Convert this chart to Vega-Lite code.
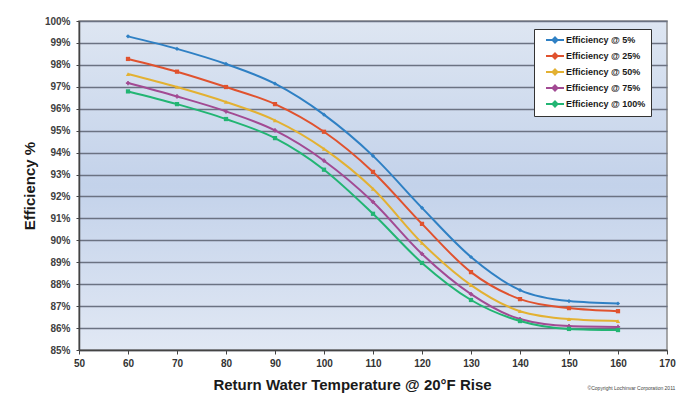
{
  "$schema": "https://vega.github.io/schema/vega-lite/v6.json",
  "autosize": {"type": "none"},
  "width": 588,
  "height": 329,
  "padding": {"left": 79, "top": 21, "right": 16, "bottom": 47},
  "background": "#ffffff",
  "title": {
    "text": "©Copyright Lochinvar Corporation 2011",
    "orient": "bottom",
    "anchor": "end",
    "fontSize": 5,
    "fontWeight": "normal",
    "color": "#444444",
    "font": "Liberation Sans",
    "offset": -6
  },
  "config": {
    "font": "Liberation Sans",
    "view": {
      "stroke": "#8c8c8c",
      "strokeWidth": 1.5,
      "fill": {
        "gradient": "linear",
        "x1": 0, "y1": 0, "x2": 0, "y2": 1,
        "stops": [
          {"offset": 0, "color": "#dee6f2"},
          {"offset": 0.5, "color": "#c3d2ea"},
          {"offset": 1, "color": "#e1e8f4"}
        ]
      }
    }
  },
  "resolve": {"legend": {"color": "independent", "shape": "independent"}},
  "data": {
    "values": [
      {"series": "Efficiency @ 5%", "temp": 60, "eff": 99.30},
      {"series": "Efficiency @ 5%", "temp": 70, "eff": 98.73},
      {"series": "Efficiency @ 5%", "temp": 80, "eff": 98.04},
      {"series": "Efficiency @ 5%", "temp": 90, "eff": 97.14},
      {"series": "Efficiency @ 5%", "temp": 100, "eff": 95.73},
      {"series": "Efficiency @ 5%", "temp": 110, "eff": 93.85},
      {"series": "Efficiency @ 5%", "temp": 120, "eff": 91.48},
      {"series": "Efficiency @ 5%", "temp": 130, "eff": 89.24},
      {"series": "Efficiency @ 5%", "temp": 140, "eff": 87.73},
      {"series": "Efficiency @ 5%", "temp": 150, "eff": 87.23},
      {"series": "Efficiency @ 5%", "temp": 160, "eff": 87.12},
      {"series": "Efficiency @ 25%", "temp": 60, "eff": 98.27},
      {"series": "Efficiency @ 25%", "temp": 70, "eff": 97.69},
      {"series": "Efficiency @ 25%", "temp": 80, "eff": 96.99},
      {"series": "Efficiency @ 25%", "temp": 90, "eff": 96.21},
      {"series": "Efficiency @ 25%", "temp": 100, "eff": 94.95},
      {"series": "Efficiency @ 25%", "temp": 110, "eff": 93.12},
      {"series": "Efficiency @ 25%", "temp": 120, "eff": 90.75},
      {"series": "Efficiency @ 25%", "temp": 130, "eff": 88.55},
      {"series": "Efficiency @ 25%", "temp": 140, "eff": 87.32},
      {"series": "Efficiency @ 25%", "temp": 150, "eff": 86.91},
      {"series": "Efficiency @ 25%", "temp": 160, "eff": 86.77},
      {"series": "Efficiency @ 50%", "temp": 60, "eff": 97.58},
      {"series": "Efficiency @ 50%", "temp": 70, "eff": 96.99},
      {"series": "Efficiency @ 50%", "temp": 80, "eff": 96.31},
      {"series": "Efficiency @ 50%", "temp": 90, "eff": 95.47},
      {"series": "Efficiency @ 50%", "temp": 100, "eff": 94.17},
      {"series": "Efficiency @ 50%", "temp": 110, "eff": 92.35},
      {"series": "Efficiency @ 50%", "temp": 120, "eff": 89.88},
      {"series": "Efficiency @ 50%", "temp": 130, "eff": 87.96},
      {"series": "Efficiency @ 50%", "temp": 140, "eff": 86.77},
      {"series": "Efficiency @ 50%", "temp": 150, "eff": 86.41},
      {"series": "Efficiency @ 50%", "temp": 160, "eff": 86.32},
      {"series": "Efficiency @ 75%", "temp": 60, "eff": 97.17},
      {"series": "Efficiency @ 75%", "temp": 70, "eff": 96.56},
      {"series": "Efficiency @ 75%", "temp": 80, "eff": 95.88},
      {"series": "Efficiency @ 75%", "temp": 90, "eff": 95.01},
      {"series": "Efficiency @ 75%", "temp": 100, "eff": 93.63},
      {"series": "Efficiency @ 75%", "temp": 110, "eff": 91.75},
      {"series": "Efficiency @ 75%", "temp": 120, "eff": 89.38},
      {"series": "Efficiency @ 75%", "temp": 130, "eff": 87.55},
      {"series": "Efficiency @ 75%", "temp": 140, "eff": 86.41},
      {"series": "Efficiency @ 75%", "temp": 150, "eff": 86.09},
      {"series": "Efficiency @ 75%", "temp": 160, "eff": 86.05},
      {"series": "Efficiency @ 100%", "temp": 60, "eff": 96.79},
      {"series": "Efficiency @ 100%", "temp": 70, "eff": 96.21},
      {"series": "Efficiency @ 100%", "temp": 80, "eff": 95.53},
      {"series": "Efficiency @ 100%", "temp": 90, "eff": 94.66},
      {"series": "Efficiency @ 100%", "temp": 100, "eff": 93.22},
      {"series": "Efficiency @ 100%", "temp": 110, "eff": 91.21},
      {"series": "Efficiency @ 100%", "temp": 120, "eff": 88.97},
      {"series": "Efficiency @ 100%", "temp": 130, "eff": 87.28},
      {"series": "Efficiency @ 100%", "temp": 140, "eff": 86.32},
      {"series": "Efficiency @ 100%", "temp": 150, "eff": 85.96},
      {"series": "Efficiency @ 100%", "temp": 160, "eff": 85.91}
    ]
  },
  "encoding": {
    "x": {
      "field": "temp",
      "type": "quantitative",
      "scale": {"domain": [50, 170], "nice": false, "zero": false},
      "axis": {
        "title": "Return Water Temperature @ 20°F Rise",
        "titleFontSize": 15,
        "titleFontWeight": "bold",
        "titleColor": "#1a1a1a",
        "titlePadding": 9,
        "titleX": 273,
        "values": [50, 60, 70, 80, 90, 100, 110, 120, 130, 140, 150, 160, 170],
        "labelFontSize": 10,
        "labelFontWeight": "bold",
        "labelColor": "#333333",
        "labelPadding": 4,
        "labelFlush": false,
        "tickSize": 4,
        "tickColor": "#444444",
        "domainColor": "#444444",
        "domainWidth": 1.5,
        "grid": false
      }
    },
    "y": {
      "field": "eff",
      "type": "quantitative",
      "scale": {"domain": [85, 100], "nice": false, "zero": false},
      "axis": {
        "title": "Efficiency %",
        "titleFontSize": 15,
        "titleFontWeight": "bold",
        "titleColor": "#1a1a1a",
        "titlePadding": 7,
        "values": [85, 86, 87, 88, 89, 90, 91, 92, 93, 94, 95, 96, 97, 98, 99, 100],
        "labelExpr": "datum.value + '%'",
        "labelFontSize": 10,
        "labelFontWeight": "bold",
        "labelColor": "#404040",
        "labelPadding": 6,
        "labelFlush": false,
        "tickSize": 3,
        "tickColor": "#444444",
        "domainColor": "#444444",
        "domainWidth": 1.5,
        "grid": true,
        "gridColor": "#6b7282",
        "gridWidth": 1.4
      }
    }
  },
  "layer": [
    {
      "mark": {"type": "line", "interpolate": "monotone", "strokeWidth": 2},
      "encoding": {
        "color": {
          "field": "series",
          "type": "nominal",
          "scale": {
            "domain": ["Efficiency @ 5%", "Efficiency @ 25%", "Efficiency @ 50%", "Efficiency @ 75%", "Efficiency @ 100%"],
            "range": ["#2f80c4", "#e0522e", "#e3b132", "#a24a93", "#22b573"]
          },
          "legend": {
            "title": null,
            "orient": "none",
            "legendX": 455,
            "legendY": 8,
            "fillColor": "#ffffff",
            "strokeColor": "#333333",
            "padding": 5,
            "labelFontSize": 9,
            "labelFontWeight": "bold",
            "labelColor": "#1a1a1a",
            "symbolType": "M-1.8,0H1.8M0,-0.5L0.5,0L0,0.5L-0.5,0Z",
            "symbolSize": 100,
            "symbolStrokeWidth": 2,
            "symbolOffset": 10,
            "labelOffset": 5,
            "rowPadding": 2
          }
        }
      }
    },
    {
      "mark": {"type": "point", "filled": true, "size": 18, "opacity": 1},
      "encoding": {
        "color": {
          "field": "series",
          "type": "nominal",
          "legend": null
        },
        "shape": {
          "field": "series",
          "type": "nominal",
          "scale": {
            "domain": ["Efficiency @ 5%", "Efficiency @ 25%", "Efficiency @ 50%", "Efficiency @ 75%", "Efficiency @ 100%"],
            "range": ["diamond", "square", "triangle-up", "cross", "square"]
          },
          "legend": null
        }
      }
    }
  ]
}
